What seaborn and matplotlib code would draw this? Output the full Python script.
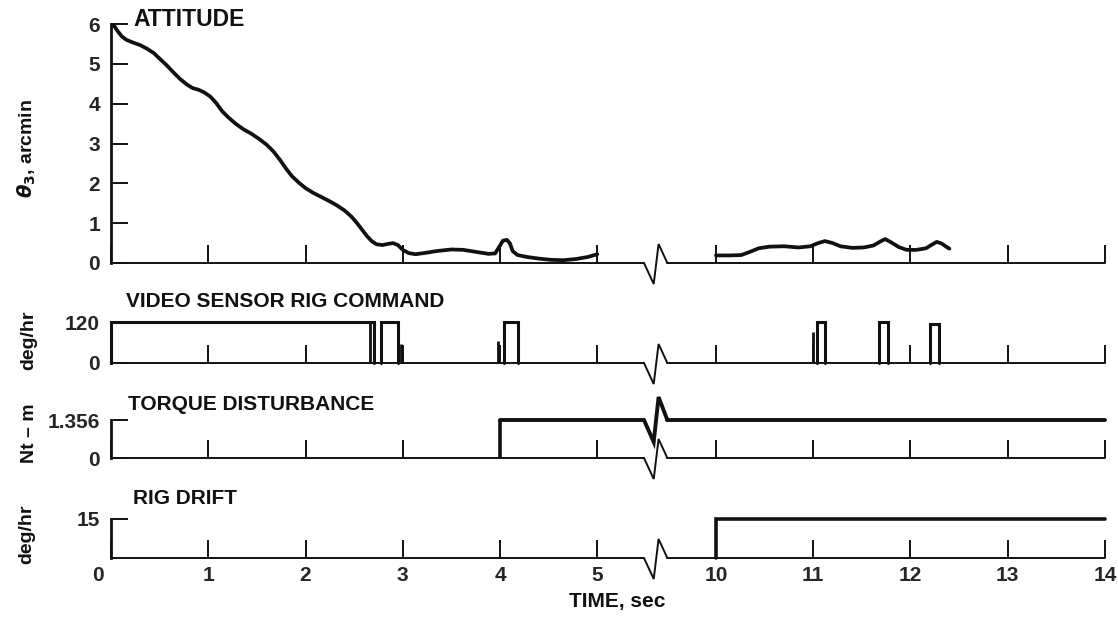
import numpy as np
import matplotlib
matplotlib.use("Agg")
import matplotlib.pyplot as plt
import matplotlib.transforms as mtransforms
import seaborn as sns

# ---------------- data ----------------
att_t1 = [0.02, 0.06, 0.11, 0.16, 0.22, 0.30, 0.37, 0.44, 0.50, 0.57, 0.64, 0.71,
          0.78, 0.84, 0.90, 0.96, 1.02, 1.08, 1.14, 1.20, 1.28, 1.36, 1.44, 1.52,
          1.60, 1.67, 1.74, 1.80, 1.86, 1.93, 2.00, 2.08, 2.16, 2.24, 2.32, 2.40,
          2.47, 2.53, 2.58, 2.63, 2.68, 2.73, 2.79, 2.85, 2.90, 2.95, 3.00, 3.06,
          3.13, 3.22, 3.35, 3.50, 3.62, 3.75, 3.88, 3.95, 3.99, 4.03, 4.07, 4.10,
          4.13, 4.18, 4.28, 4.40, 4.52, 4.65, 4.78, 4.90, 5.00]
att_v1 = [6.00, 5.85, 5.69, 5.60, 5.54, 5.47, 5.38, 5.27, 5.13, 4.97, 4.79, 4.62,
          4.48, 4.39, 4.35, 4.28, 4.18, 4.02, 3.82, 3.67, 3.50, 3.36, 3.25, 3.12,
          2.97, 2.80, 2.58, 2.37, 2.18, 2.02, 1.88, 1.76, 1.66, 1.56, 1.45, 1.32,
          1.17, 1.00, 0.84, 0.68, 0.55, 0.47, 0.45, 0.48, 0.50, 0.45, 0.33, 0.25,
          0.22, 0.25, 0.30, 0.34, 0.33, 0.28, 0.23, 0.24, 0.40, 0.56, 0.58, 0.50,
          0.30, 0.20, 0.15, 0.11, 0.08, 0.07, 0.10, 0.15, 0.22]
att_t2 = [10.00, 10.15, 10.26, 10.35, 10.44, 10.55, 10.70, 10.85, 10.97, 11.05,
          11.12, 11.20, 11.28, 11.40, 11.52, 11.62, 11.69, 11.74, 11.80, 11.88,
          11.96, 12.06, 12.16, 12.22, 12.27, 12.32, 12.36, 12.40]
att_v2 = [0.19, 0.19, 0.20, 0.28, 0.37, 0.41, 0.42, 0.39, 0.42, 0.50,
          0.55, 0.50, 0.42, 0.38, 0.39, 0.44, 0.54, 0.60, 0.52, 0.40,
          0.33, 0.33, 0.37, 0.46, 0.53, 0.49, 0.42, 0.36]

cmd_pulse_start = [0.00, 2.78, 4.04, 11.04, 11.68, 12.20]
cmd_pulse_end = [2.70, 2.95, 4.18, 11.12, 11.77, 12.29]
cmd_pulse_level = [120, 120, 120, 120, 120, 115]
cmd_spike_t = [2.66, 2.98, 3.98, 11.00]
cmd_spike_level = [120, 57, 64, 90]

torque_on_t = 4.0
torque_level = 1.356
drift_on_t = 10.0
drift_level = 15.0
t_end = 14.0

time_ticks = [0, 1, 2, 3, 4, 5, 10, 11, 12, 13, 14]
time_labels = [str(v) for v in time_ticks]

# ---------------- axis break mapping ----------------
GAP = 3.78
ZZ_X = [5.48, 5.58, 5.63, 5.72]


def tx(t):
    t = np.asarray(t, float)
    return np.where(t <= 5.6, t, t - GAP)


U_END = float(tx(t_end))

sns.set_theme(style="white")
plt.rcParams["font.family"] = ["Liberation Sans", "DejaVu Sans"]
plt.rcParams["font.weight"] = "bold"
plt.rcParams["axes.labelweight"] = "bold"

W, H = 1118, 621
fig = plt.figure(figsize=(W / 100, H / 100), dpi=100)
INK = "#111111"


def fx(px):
    return px / W


def fy(py):
    return 1 - py / H


left, right = 111, 1105
panels = [  # (top px, bottom px, ylim top)
    (24, 263, 6.0),
    (322, 363, 120.0),
    (420, 458, 1.356),
    (519, 558, 15.0),
]
axes = []
for top, bot, ytop in panels:
    ax = fig.add_axes([fx(left), fy(bot), (right - left) / W, (bot - top) / H])
    ax.set_xlim(0, U_END)
    ax.set_ylim(0, ytop)
    ax.set_facecolor("none")
    for s in ["top", "right", "bottom"]:
        ax.spines[s].set_visible(False)
    ax.spines["left"].set_color(INK)
    ax.spines["left"].set_linewidth(2.0)
    ax.set_xticks(tx(time_ticks))
    ax.tick_params(axis="x", direction="in", length=13, width=1.4, color=INK,
                   labelsize=15, pad=6, bottom=True)
    ax.tick_params(axis="y", direction="in", length=12, width=1.4, color=INK,
                   labelsize=15, pad=8, left=True)
    ax.grid(False)
    axes.append(ax)


def zigzag(ax, level, lw, down=21, up=19):
    h = ax.bbox.height
    y0 = ax.get_ylim()
    base = (level - y0[0]) / (y0[1] - y0[0])
    ys = [base, base - down / h, base + up / h, base]
    ax.plot(ZZ_X, ys, transform=ax.get_xaxis_transform(), color=INK, lw=lw,
            clip_on=False, solid_joinstyle="miter")


def baseline(ax):
    ax.plot([0, ZZ_X[0]], [0, 0], color=INK, lw=1.4, clip_on=False)
    ax.plot([ZZ_X[-1], U_END], [0, 0], color=INK, lw=1.4, clip_on=False)
    zigzag(ax, 0, 1.4)


for ax in axes:
    baseline(ax)

# ---- panel 1: attitude ----
ax1 = axes[0]
for tt, vv in [(att_t1, att_v1), (att_t2, att_v2)]:
    sns.lineplot(x=tx(tt), y=vv, ax=ax1, color=INK, lw=2.7, sort=False,
                 estimator=None, solid_joinstyle="round", solid_capstyle="round")
ax1.set_yticks([0, 1, 2, 3, 4, 5, 6])
ax1.set_yticklabels(["0", "1", "2", "3", "4", "5", "6"])

# ---- panel 2: rig command ----
ax2 = axes[1]
for s, e, lv in zip(cmd_pulse_start, cmd_pulse_end, cmd_pulse_level):
    ax2.plot(tx([s, s, e, e]), [0, lv, lv, 0], color=INK, lw=2.2, clip_on=False,
             solid_joinstyle="miter")
ax2.vlines(tx(cmd_spike_t), 0, cmd_spike_level, color=INK, lw=2.0)
ax2.set_yticks([0, 120])
ax2.set_yticklabels(["0", "120"])

# ---- panel 3: torque disturbance ----
ax3 = axes[2]
ax3.plot(tx([torque_on_t, torque_on_t]), [0, torque_level], color=INK, lw=2.6)
ax3.plot([float(tx(torque_on_t)), ZZ_X[0]], [torque_level, torque_level],
         color=INK, lw=2.8, clip_on=False)
ax3.plot([ZZ_X[-1], U_END], [torque_level, torque_level], color=INK, lw=2.8,
         clip_on=False)
zigzag(ax3, torque_level, 2.8, down=22, up=23)
ax3.set_yticks([0, torque_level])
ax3.set_yticklabels(["0", "1.356"])

# ---- panel 4: rig drift ----
ax4 = axes[3]
ax4.plot(tx([drift_on_t, drift_on_t, t_end]), [0, drift_level, drift_level],
         color=INK, lw=2.6, clip_on=False, solid_joinstyle="miter")
ax4.set_yticks([drift_level])
ax4.set_yticklabels(["15"])

for ax in axes[:3]:
    ax.tick_params(axis="x", labelbottom=False)
ax4.set_xticklabels(time_labels)
zero_lab = ax4.get_xticklabels()[0]
zero_lab.set_transform(zero_lab.get_transform() +
                       mtransforms.ScaledTranslation(-13 / 100, 0, fig.dpi_scale_trans))

# ---- texts ----
tkw = dict(fontsize=15, fontweight="bold", color=INK, va="center", ha="left")
fig.text(fx(133), fy(20), "ATTITUDE", fontsize=16.5, fontweight="bold",
         color=INK, va="center", ha="left")
fig.text(fx(126), fy(302), "VIDEO SENSOR RIG COMMAND", **tkw)
fig.text(fx(128), fy(404), "TORQUE DISTURBANCE", **tkw)
fig.text(fx(133), fy(499), "RIG DRIFT", **tkw)

ykw = dict(fontsize=14, fontweight="bold", color=INK, va="center", ha="center",
           rotation=90)
fig.text(fx(27), fy(148), r"$\theta_3$, arcmin", **ykw)
fig.text(fx(29), fy(340), "deg/hr", **ykw)
fig.text(fx(29), fy(433), "Nt \u2013 m", **ykw)
fig.text(fx(27), fy(534), "deg/hr", **ykw)

fig.text(fx(617), fy(602), "TIME, sec", fontsize=15, fontweight="bold",
         color=INK, va="center", ha="center")

fig.savefig("out.png", dpi=100)
